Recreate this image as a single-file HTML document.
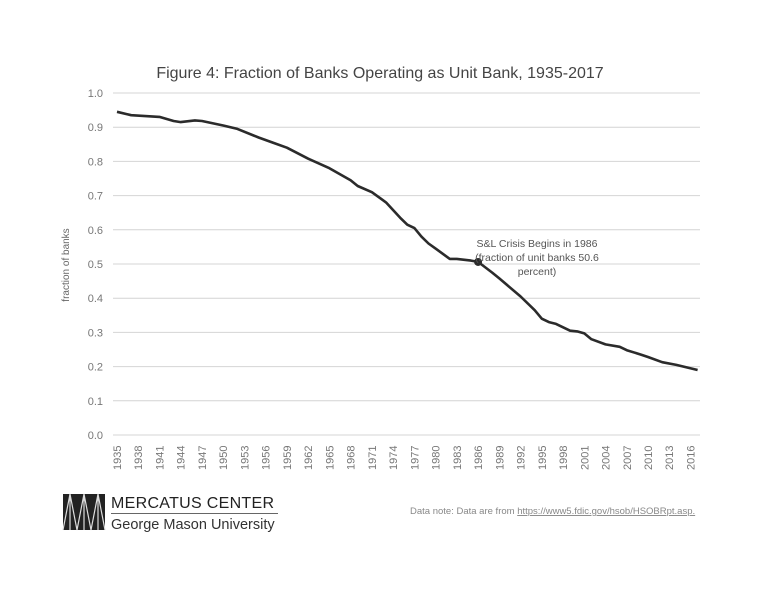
<!DOCTYPE html>
<html><head><meta charset="utf-8"><style>
body{margin:0;background:#fff;width:768px;height:593px;overflow:hidden;font-family:"Liberation Sans",sans-serif}
</style></head><body>
<svg id="s" width="768" height="593" xmlns="http://www.w3.org/2000/svg" font-family="Liberation Sans, sans-serif">
<rect width="768" height="593" fill="#fff"/>
<text x="380" y="78" text-anchor="middle" font-size="16" fill="#444">Figure 4: Fraction of Banks Operating as Unit Bank, 1935-2017</text>
<g id="grid"></g>
<text transform="translate(69,265) rotate(-90)" text-anchor="middle" font-size="10" fill="#666">fraction of banks</text>
<path id="line" fill="none" stroke="#2b2b2b" stroke-width="2.6" stroke-linejoin="round"/>
<circle id="dot" r="4" fill="#2b2b2b"/>
<text x="537" y="247" text-anchor="middle" font-size="10.5" fill="#555">S&amp;L Crisis Begins in 1986</text>
<text x="537" y="261" text-anchor="middle" font-size="10.5" fill="#555">(fraction of unit banks 50.6</text>
<text x="537" y="275" text-anchor="middle" font-size="10.5" fill="#555">percent)</text>
<g transform="translate(63,494)">
<rect width="42" height="36" fill="#222"/>
<path d="M0,36 L7,0 L14,36 L21,0 L28,36 L35,0 L42,36 M7,0 L7,36 M21,0 L21,36 M35,0 L35,36" stroke="#ddd" stroke-width="1.2" fill="none"/>
</g>
<text x="111" y="508" font-size="16" fill="#222" letter-spacing="0.3">MERCATUS CENTER</text>
<line x1="111" y1="513.5" x2="278" y2="513.5" stroke="#666" stroke-width="1"/>
<text x="111" y="529" font-size="14.5" fill="#333">George Mason University</text>
<text x="410" y="514" font-size="9.5" fill="#888">Data note: Data are from <tspan text-decoration="underline">https://www5.fdic.gov/hsob/HSOBRpt.asp.</tspan></text>
</svg>
<script>
var X=function(y){return 117+7.08*(y-1935)},Y=function(v){return 435-342*v};
var g=document.getElementById('grid'),h='';
for(var i=0;i<=10;i++){var y=Y(i/10);h+='<line x1="113" x2="700" y1="'+y+'" y2="'+y+'" stroke="#d4d4d4" stroke-width="1"/>';
h+='<text x="103" y="'+(y+4)+'" text-anchor="end" font-size="11" fill="#777">'+(i/10).toFixed(1)+'</text>';}
for(var yr=1935;yr<=2016;yr+=3){var x=X(yr);h+='<text transform="translate('+(x+4)+',470) rotate(-90)" font-size="11" fill="#777">'+yr+'</text>';}
g.innerHTML=h;
var d=[[1935,.945],[1937,.935],[1941,.93],[1943,.918],[1944,.915],[1946,.92],[1947,.918],[1950,.905],[1952,.895],[1955,.87],[1957,.855],[1959,.84],[1962,.808],[1965,.78],[1968,.745],[1969,.728],[1971,.71],[1973,.68],[1975,.635],[1976,.615],[1977,.605],[1978,.58],[1979,.56],[1980,.545],[1982,.515],[1983,.515],[1985,.51],[1986,.506],[1988,.475],[1989,.458],[1992,.405],[1994,.365],[1995,.34],[1996,.33],[1997,.325],[1999,.305],[2000,.303],[2001,.297],[2002,.28],[2004,.265],[2006,.258],[2007,.248],[2009,.235],[2010,.228],[2012,.213],[2014,.205],[2017,.19]];
document.getElementById('line').setAttribute('d','M'+d.map(function(p){return X(p[0]).toFixed(1)+','+Y(p[1]).toFixed(1)}).join(' L'));
var c=document.getElementById('dot');c.setAttribute('cx',X(1986));c.setAttribute('cy',Y(.506));
</script>
</body></html>
